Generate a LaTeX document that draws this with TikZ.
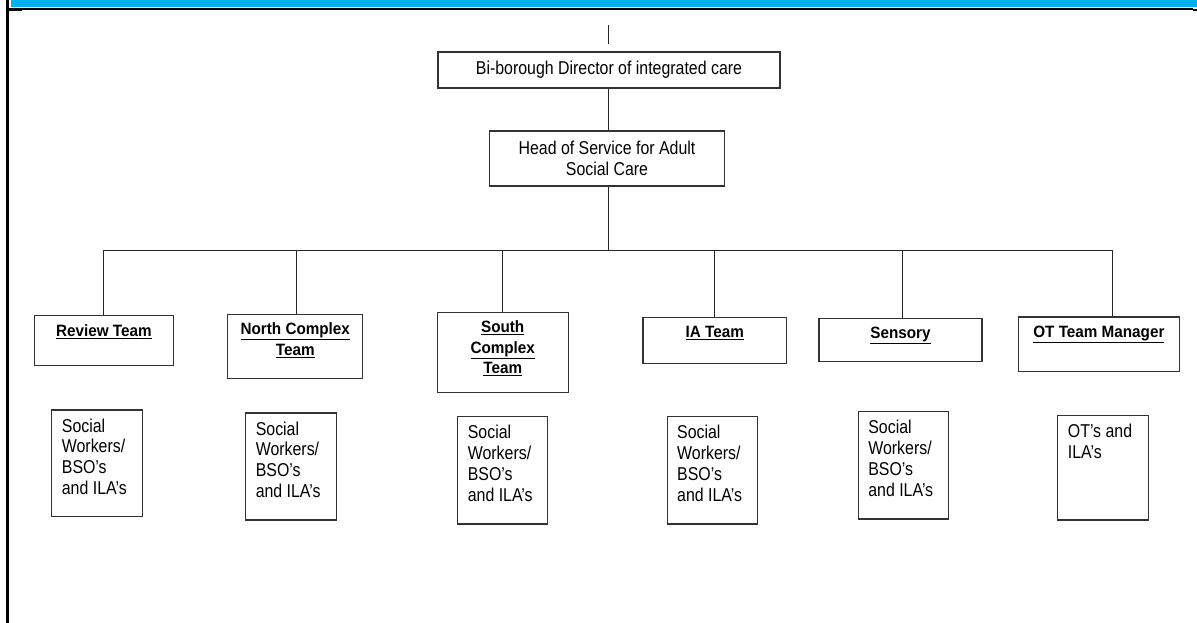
\documentclass[tikz,border=0pt]{standalone}
\usepackage{fontspec}
\setmainfont{Liberation Sans}
\newfontfamily\boxfont{Liberation Sans}[FakeStretch=0.855]
\newfontfamily\teamfont{Liberation Sans}[FakeStretch=0.93]
\definecolor{bandblue}{RGB}{0,176,240}
\tikzset{
	txt/.style={font=\boxfont\fontsize{18.6}{20.8}\selectfont},
	teamtext/.style={anchor=north,inner xsep=0pt,inner ysep=9pt,align=center,font=\teamfont\bfseries\fontsize{16.4}{20.5}\selectfont},
	stafftext/.style={anchor=north west,inner xsep=10.5pt,inner ysep=9pt,align=left,txt}
}
\begin{document}
\begin{tikzpicture}[x=1pt,y=-1pt]
	\useasboundingbox (0,0) rectangle (1197,623);
	% page frame
	\fill[bandblue] (11,0) rectangle (1197,7.5);
	\draw[line width=2pt] (9,9) -- (1193,9);
	\draw[line width=2pt] (1193,10) -- (1197,10);
	\draw[line width=2.5pt] (7.5,0) -- (7.5,623);
	\draw[line width=1pt] (9,10.8) -- (22,10.8);
	\begin{scope}[every node/.style={rectangle,draw=black!80,line width=1.1pt,inner sep=0pt,txt}]
	\node[minimum width=342,minimum height=36] (dir) at (609,70) {Bi-borough Director of integrated care};
	\node[minimum width=234.5,minimum height=55,align=center] (head) at (607,158.5) {Head of Service for Adult\\Social Care};
	% teams
	\node[minimum width=139,minimum height=50] (rev) at (103.9,340.7) {};
	\node[minimum width=135,minimum height=64] (north) at (295.3,346.3) {};
	\node[minimum width=131.3,minimum height=80] (south) at (502.7,352.3) {};
	\node[minimum width=143.6,minimum height=46] (ia) at (714.8,340.3) {};
	\node[minimum width=163,minimum height=42.7] (sens) at (900.5,339.7) {};
	\node[minimum width=160.7,minimum height=54.7] (ot) at (1098.9,344.3) {};
	% staff
	\node[minimum width=90.3,minimum height=106.7] (revstaff) at (96.9,463.3) {};
	\node[minimum width=90.7,minimum height=107] (northstaff) at (291,466.5) {};
	\node[minimum width=90,minimum height=107.3] (southstaff) at (502.7,470.3) {};
	\node[minimum width=90.3,minimum height=107.3] (iastaff) at (712.2,470.3) {};
	\node[minimum width=90.2,minimum height=107.3] (sensstaff) at (903.3,465.3) {};
	\node[minimum width=90.3,minimum height=104.3] (otstaff) at (1102.9,467.8) {};
	\end{scope}
	\node[teamtext] at (rev.north) {\underline{Review Team}};
	\node[teamtext] at (north.north) {\underline{North Complex}\\\underline{Team}};
	\node[teamtext] at (south.north) {\underline{South}\\\underline{Complex}\\\underline{Team}};
	\node[teamtext] at (ia.north) {\underline{IA Team}};
	\node[teamtext] at (sens.north) {\underline{Sensory}};
	\node[teamtext] at (ot.north) {\underline{OT Team Manager}};
	\node[stafftext] at (revstaff.north west) {Social\\Workers/\\BSO’s\\and ILA’s};
	\node[stafftext] at (northstaff.north west) {Social\\Workers/\\BSO’s\\and ILA’s};
	\node[stafftext] at (southstaff.north west) {Social\\Workers/\\BSO’s\\and ILA’s};
	\node[stafftext] at (iastaff.north west) {Social\\Workers/\\BSO’s\\and ILA’s};
	\node[stafftext] at (sensstaff.north west) {Social\\Workers/\\BSO’s\\and ILA’s};
	\node[stafftext] at (otstaff.north west) {OT’s and\\ILA’s};
	\coordinate (stub) at (608,25);
	\coordinate (b1) at (103,250);
	\coordinate (b2) at (296,250);
	\coordinate (b3) at (502.5,250);
	\coordinate (b4) at (714.6,250);
	\coordinate (b5) at (902.7,250);
	\coordinate (b6) at (1112,250);
	\begin{scope}[every edge/.style={draw=black!85,line width=1pt}]
	\path (stub) edge ++(0,19);
	\path (stub |- dir.south) edge (stub |- head.north);
	\path (stub |- head.south) edge (stub |- b1);
	\path (b1) edge (b6);
	\path (b1) edge (b1 |- rev.north);
	\path (b2) edge (b2 |- north.north);
	\path (b3) edge (b3 |- south.north);
	\path (b4) edge (b4 |- ia.north);
	\path (b5) edge (b5 |- sens.north);
	\path (b6) edge (b6 |- ot.north);
	\end{scope}
\end{tikzpicture}
\end{document}
